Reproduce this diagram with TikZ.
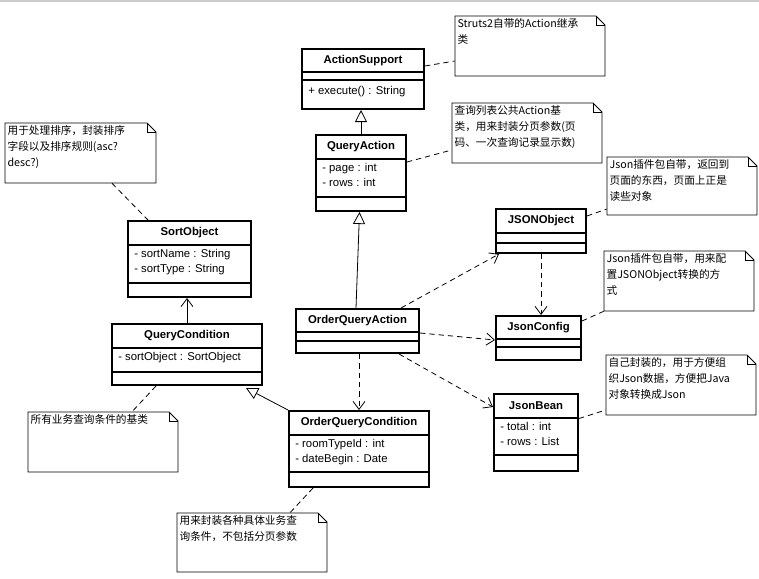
\documentclass[tikz,border=0pt]{standalone}
\usepackage{fontspec}
\setmainfont{Liberation Sans}
\newfontfamily\cjk{Noto Sans CJK SC}
\usetikzlibrary{arrows.meta,fit}
\tikzset{
  cls/.style={draw,line width=1.5pt,inner sep=0pt},
  notebox/.style={inner sep=0pt},
  gen/.style={line width=0.6pt,-{Triangle[open,length=9pt,width=9pt]}},
  assoc/.style={line width=0.6pt,-{Straight Barb[length=6pt,width=9pt]}},
  dep/.style={line width=0.6pt,dash pattern=on 4pt off 3pt,-{Straight Barb[length=6pt,width=9pt]}},
  ndash/.style={line width=0.6pt,dash pattern=on 4pt off 3pt},
  ttl/.style={font=\fontsize{8.5}{10}\selectfont\bfseries},
  att/.style={font=\fontsize{8.5}{11}\selectfont,anchor=north west,align=left,inner sep=0pt},
  ntxt/.style={font=\cjk\fontsize{8}{12}\selectfont,anchor=north west,align=left,inner sep=1pt},
}
% \umlcls{name}{x1}{y1}{x2}{y2}{ya}{yb}{title}{attrs}
\newcommand{\umlcls}[9]{%
  \node[cls,fit={(#2,#3)(#4,#5)}] (#1) {};
  \draw[line width=0.8pt] (#2,#6) -- (#4,#6);
  \draw[line width=0.8pt] (#2,#7) -- (#4,#7);
  \node[ttl] at ({(#2+#4)/2},{(#3+#6)/2}) {#8};
  \node[att] at ({#2+6},{#6+4}) {#9};
}
% \umlnote{name}{x1}{y1}{x2}{y2}{text}
\newcommand{\umlnote}[6]{%
  \node[notebox,fit={(#2,#3)(#4,#5)}] (#1) {};
  \draw[line width=0.6pt] (#2,#3) -- ({#4-9},#3) -- (#4,{#3+9}) -- (#4,#5) -- (#2,#5) -- cycle;
  \draw[line width=0.6pt] ({#4-9},#3) -- ({#4-9},{#3+9}) -- (#4,{#3+9});
  \node[ntxt] at ({#2+1},{#3+1}) {#6};
}
\begin{document}
\begin{tikzpicture}[x=0.75pt,y=-0.75pt]
\useasboundingbox[fill=white] (0,0) rectangle (759,578);
\fill[gray!40] (0,0) rectangle (759,2);

\umlcls{as}{302}{49}{424}{109}{72}{80}{ActionSupport}{}
\node[att] at (308,86) {+ execute() : String};
\umlcls{qa}{316}{135}{406}{211}{159}{197}{QueryAction}{- page : int\\- rows : int}
\umlcls{so}{128}{221}{251}{297}{245}{283}{SortObject}{- sortName : String\\- sortType : String}
\umlcls{jo}{496}{209}{586}{253}{233}{243}{JSONObject}{}
\umlcls{oqa}{296}{309}{419}{353}{332}{341}{OrderQueryAction}{}
\umlcls{jc}{496}{316}{581}{360}{339}{347}{JsonConfig}{}
\umlcls{qc}{112}{324}{262}{385}{348}{372}{QueryCondition}{- sortObject : SortObject}
\umlcls{oqc}{289}{411}{429}{487}{435}{472}{OrderQueryCondition}{- roomTypeId : int\\- dateBegin : Date}
\umlcls{jb}{494}{394}{578}{471}{418}{455}{JsonBean}{- total : int\\- rows : List}

\umlnote{n1}{455}{16}{605}{76}{Struts2自带的Action继承\\类}
\umlnote{n2}{452}{103}{602}{163}{查询列表公共Action基\\类，用来封装分页参数(页\\码、一次查询记录显示数)}
\umlnote{n3}{5}{123}{156}{183}{用于处理排序，封装排序\\字段以及排序规则(asc?\\desc?)}
\umlnote{n4}{607}{157}{757}{215}{Json插件包自带，返回到\\页面的东西，页面上正是\\读些对象}
\umlnote{n5}{604}{251}{754}{311}{Json插件包自带，用来配\\置JSONObject转换的方\\式}
\umlnote{n6}{28}{412}{178}{472}{所有业务查询条件的基类}
\umlnote{n7}{177}{513}{327}{572}{用来封装各种具体业务查\\询条件，不包括分页参数}
\umlnote{n8}{606}{355}{756}{415}{自己封装的，用于方便组\\织Json数据，方便把Java\\对象转换成Json}

% generalizations / associations
\draw[gen] (qa.north) -- (qa.north |- as.south);
\draw[gen] ([xshift=-1.5*0.75pt]oqa.north) -- ([xshift=-1.5*0.75pt]qa.south);
\draw[assoc] (qc.north) -- (qc.north |- so.south);
\draw[gen] (oqc.north west) -- ([xshift=-17*0.75pt,yshift=-2*0.75pt]qc.south east);
% dependencies
\draw[dep] ([xshift=-19*0.75pt]oqa.north east) -- ([xshift=4*0.75pt]jo.south west);
\draw[dep] ([yshift=-2*0.75pt]oqa.east) -- ([yshift=-2*0.75pt]jc.west);
\draw[dep] ([xshift=1.5*0.75pt]oqa.south) -- ([xshift=1.5*0.75pt]oqa.south |- oqc.north);
\draw[dep] ([xshift=-21*0.75pt]oqa.south east) -- ([yshift=-14*0.75pt]jb.north west);
\draw[dep] (jo.south) -- (jo.south |- jc.north);
% note links
\draw[ndash] ([yshift=13*0.75pt]as.east) -- ([yshift=-15*0.75pt]n1.west);
\draw[ndash] ([yshift=11*0.75pt]qa.east) -- ([yshift=-17*0.75pt]n2.west);
\draw[ndash] ([xshift=31.5*0.75pt]n3.south) -- ([xshift=-41.5*0.75pt]so.north);
\draw[ndash] ([yshift=15*0.75pt]jo.east) -- ([yshift=-23*0.75pt]n4.west);
\draw[ndash] ([yshift=17*0.75pt]jc.east) -- (n5.south west);
\draw[ndash] ([xshift=-31*0.75pt]qc.south) -- ([xshift=29*0.75pt]n6.north);
\draw[ndash] ([xshift=-46*0.75pt]oqc.south) -- ([xshift=38*0.75pt]n7.north);
\draw[ndash] ([yshift=14*0.75pt]jb.east) -- ([yshift=-25*0.75pt]n8.west);
\end{tikzpicture}
\end{document}
